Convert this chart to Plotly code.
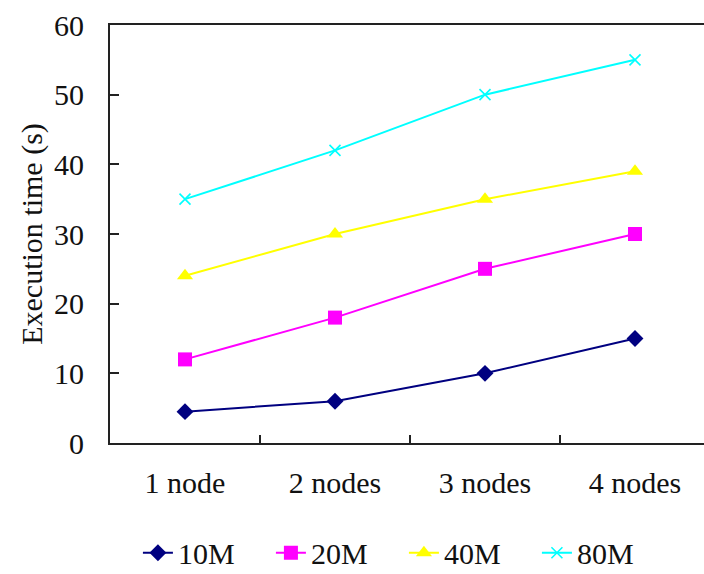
import plotly.graph_objects as go

# Execution time (seconds) per cluster size for each input size
categories = ["1 node", "2 nodes", "3 nodes", "4 nodes"]
series_names = ["10M", "20M", "40M", "80M"]
time_10m = [4.5, 6, 10, 15]
time_20m = [12, 18, 25, 30]
time_40m = [24, 30, 35, 39]
time_80m = [35, 42, 50, 55]
y_ticks = [0, 10, 20, 30, 40, 50, 60]

series_values = [time_10m, time_20m, time_40m, time_80m]
colors = ["#000080", "#FF00FF", "#FFFF00", "#00FFFF"]
symbols = ["diamond", "square", "triangle-up", "x-thin"]
sizes = [13, 14, 14, 11]

FONT = "Liberation Serif, Times New Roman, serif"
FS = 30

fig = go.Figure()
for name, vals, col, sym, sz in zip(series_names, series_values, colors, symbols, sizes):
    fig.add_trace(go.Scatter(
        x=categories, y=vals, name=name, mode="lines+markers",
        line=dict(color=col, width=2),
        marker=dict(symbol=sym, size=sz, color=col,
                    line=dict(color=col, width=1.6 if sym == "x-thin" else 0)),
    ))

fig.update_layout(
    width=704, height=574,
    margin=dict(l=110, r=0, t=25, b=131),
    paper_bgcolor="white", plot_bgcolor="white",
    font=dict(family=FONT, size=FS, color="#111"),
    showlegend=True,
    legend=dict(orientation="h", x=0.047, xanchor="left",
                yref="container", y=0.037, yanchor="middle",
                font=dict(family=FONT, size=FS, color="#111"),
                entrywidth=88, entrywidthmode="pixels",
                itemwidth=30, tracegroupgap=0),
)
fig.update_xaxes(
    type="category", range=[-0.5, 3.46],
    showline=True, linecolor="#222", linewidth=2, mirror=True,
    ticks="inside", tickson="boundaries", ticklen=8, tickwidth=2, tickcolor="#222",
    showgrid=False, zeroline=False, ticklabelstandoff=12,
)
fig.update_yaxes(
    range=[0, 60], tickvals=y_ticks,
    showline=True, linecolor="#222", linewidth=2,
    ticks="inside", ticklen=9, tickwidth=2, tickcolor="#222",
    showgrid=False, zeroline=False, ticklabelstandoff=18,
    title=dict(text="Execution time (s)", font=dict(family=FONT, size=FS), standoff=3),
)

fig.write_html("out.html")
